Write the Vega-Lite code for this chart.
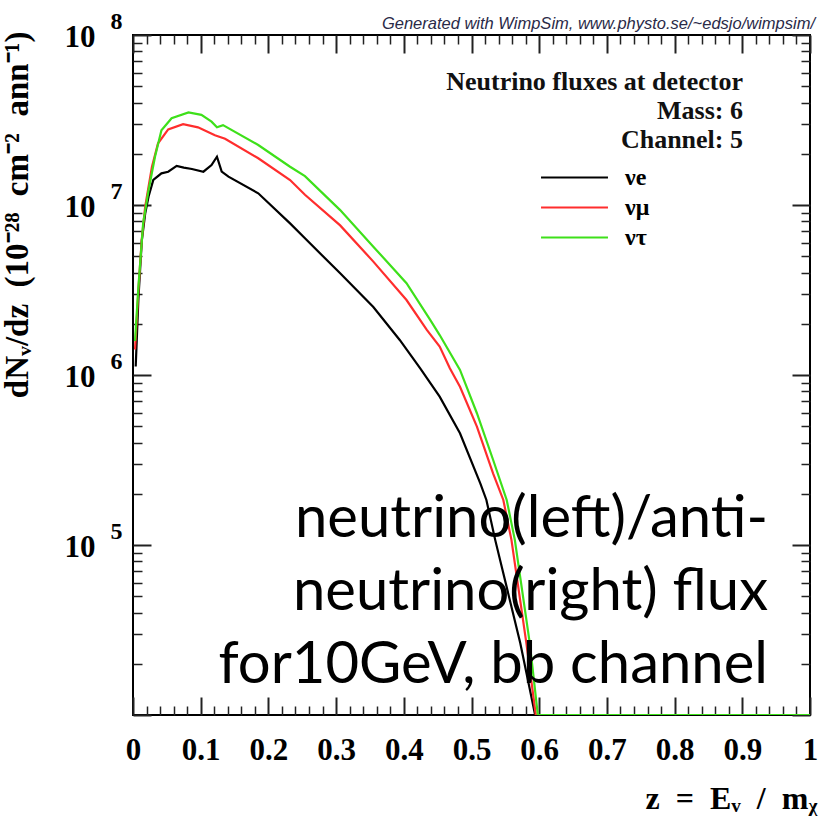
{
  "$schema": "https://vega.github.io/schema/vega-lite/v6.json",
  "width": 677,
  "height": 680,
  "autosize": {"type": "none"},
  "padding": {"left": 133, "top": 35, "right": 10, "bottom": 115},
  "background": "white",
  "config": {"view": {"stroke": "#000000", "strokeWidth": 2}, "font": "Liberation Serif"},
  "title": {"text": "Generated with WimpSim, www.physto.se/~edsjo/wimpsim/", "anchor": "end", "frame": "group", "font": "Liberation Sans", "fontStyle": "italic", "fontWeight": "normal", "fontSize": 16.5, "color": "#2a2a48", "offset": 0, "dx": 5, "dy": 23},
  "layer": [
    {
      "data": {"values": [
        {"s": "νe", "z": 0.004, "f": 1122000}, {"s": "νe", "z": 0.008, "f": 2818000}, {"s": "νe", "z": 0.013, "f": 6166000}, {"s": "νe", "z": 0.018, "f": 8913000}, {"s": "νe", "z": 0.023, "f": 11220000}, {"s": "νe", "z": 0.03, "f": 14030000}, {"s": "νe", "z": 0.042, "f": 15350000}, {"s": "νe", "z": 0.052, "f": 15700000}, {"s": "νe", "z": 0.0645, "f": 16980000}, {"s": "νe", "z": 0.075, "f": 16600000}, {"s": "νe", "z": 0.087, "f": 16290000}, {"s": "νe", "z": 0.104, "f": 15700000}, {"s": "νe", "z": 0.116, "f": 17180000}, {"s": "νe", "z": 0.124, "f": 19230000}, {"s": "νe", "z": 0.131, "f": 15700000}, {"s": "νe", "z": 0.141, "f": 14690000}, {"s": "νe", "z": 0.185, "f": 11720000}, {"s": "νe", "z": 0.232, "f": 7798000}, {"s": "νe", "z": 0.254, "f": 6368000}, {"s": "νe", "z": 0.306, "f": 3963000}, {"s": "νe", "z": 0.355, "f": 2512000}, {"s": "νe", "z": 0.394, "f": 1607000}, {"s": "νe", "z": 0.424, "f": 1096000}, {"s": "νe", "z": 0.453, "f": 746400}, {"s": "νe", "z": 0.483, "f": 453900}, {"s": "νe", "z": 0.513, "f": 230700}, {"s": "νe", "z": 0.522, "f": 184100}, {"s": "νe", "z": 0.535, "f": 107200}, {"s": "νe", "z": 0.572, "f": 26550}, {"s": "νe", "z": 0.594, "f": 10000}, {"s": "νe", "z": 1.0, "f": 10000},
        {"s": "νμ", "z": 0.003, "f": 1413000}, {"s": "νμ", "z": 0.008, "f": 3162000}, {"s": "νμ", "z": 0.013, "f": 6310000}, {"s": "νμ", "z": 0.018, "f": 9772000}, {"s": "νμ", "z": 0.028, "f": 16790000}, {"s": "νμ", "z": 0.037, "f": 23070000}, {"s": "νμ", "z": 0.052, "f": 27860000}, {"s": "νμ", "z": 0.074, "f": 29850000}, {"s": "νμ", "z": 0.096, "f": 28640000}, {"s": "νμ", "z": 0.121, "f": 25700000}, {"s": "νμ", "z": 0.136, "f": 24550000}, {"s": "νμ", "z": 0.185, "f": 18840000}, {"s": "νμ", "z": 0.232, "f": 14030000}, {"s": "νμ", "z": 0.254, "f": 11480000}, {"s": "νμ", "z": 0.306, "f": 7586000}, {"s": "νμ", "z": 0.355, "f": 4645000}, {"s": "νμ", "z": 0.404, "f": 2761000}, {"s": "νμ", "z": 0.434, "f": 1841000}, {"s": "νμ", "z": 0.453, "f": 1469000}, {"s": "νμ", "z": 0.468, "f": 1096000}, {"s": "νμ", "z": 0.483, "f": 853100}, {"s": "νμ", "z": 0.508, "f": 496600}, {"s": "νμ", "z": 0.532, "f": 263000}, {"s": "νμ", "z": 0.547, "f": 184100}, {"s": "νμ", "z": 0.559, "f": 107200}, {"s": "νμ", "z": 0.581, "f": 26550}, {"s": "νμ", "z": 0.595, "f": 10000}, {"s": "νμ", "z": 1.0, "f": 10000},
        {"s": "ντ", "z": 0.003, "f": 1585000}, {"s": "ντ", "z": 0.008, "f": 3311000}, {"s": "ντ", "z": 0.015, "f": 7834000}, {"s": "ντ", "z": 0.023, "f": 12250000}, {"s": "ντ", "z": 0.0325, "f": 19230000}, {"s": "ντ", "z": 0.042, "f": 27540000}, {"s": "ντ", "z": 0.057, "f": 32360000}, {"s": "ντ", "z": 0.082, "f": 35080000}, {"s": "ντ", "z": 0.101, "f": 33880000}, {"s": "ντ", "z": 0.116, "f": 30900000}, {"s": "ντ", "z": 0.124, "f": 28640000}, {"s": "ντ", "z": 0.133, "f": 29510000}, {"s": "ντ", "z": 0.185, "f": 22540000}, {"s": "ντ", "z": 0.232, "f": 16790000}, {"s": "ντ", "z": 0.254, "f": 14790000}, {"s": "ντ", "z": 0.306, "f": 9333000}, {"s": "ντ", "z": 0.355, "f": 5689000}, {"s": "ντ", "z": 0.404, "f": 3467000}, {"s": "ντ", "z": 0.439, "f": 2109000}, {"s": "ντ", "z": 0.453, "f": 1718000}, {"s": "ντ", "z": 0.483, "f": 1072000}, {"s": "ντ", "z": 0.508, "f": 595700}, {"s": "ντ", "z": 0.532, "f": 316200}, {"s": "ντ", "z": 0.552, "f": 184100}, {"s": "ντ", "z": 0.564, "f": 107200}, {"s": "ντ", "z": 0.586, "f": 26550}, {"s": "ντ", "z": 0.598, "f": 10000}, {"s": "ντ", "z": 1.0, "f": 10000}
      ]},
      "mark": {"type": "line", "strokeWidth": 2.2, "clip": true},
      "encoding": {
        "x": {"field": "z", "type": "quantitative", "scale": {"domain": [0, 1], "nice": false, "zero": false},
          "axis": {"orient": "bottom", "values": [0, 0.1, 0.2, 0.3, 0.4, 0.5, 0.6, 0.7, 0.8, 0.9, 1], "format": "~g", "ticks": false, "domain": false, "grid": false, "labelFlush": false, "labelFont": "Liberation Serif", "labelFontWeight": "bold", "labelFontSize": 31, "labelColor": "#000", "labelPadding": 20,
            "title": "z\u2002=\u2002E\u1d65\u2002/\u2002m\u1d6a", "titleX": 684, "titleY": 93, "titleAlign": "right", "titleBaseline": "alphabetic", "titleFont": "Liberation Serif", "titleFontWeight": "bold", "titleFontSize": 32, "titleColor": "#000"}},
        "y": {"field": "f", "type": "quantitative", "scale": {"type": "log", "domain": [10000, 100000000], "nice": false},
          "axis": {"orient": "left", "values": [100000, 1000000, 10000000, 100000000], "labelExpr": "'10'", "ticks": false, "domain": false, "grid": false, "labelFont": "Liberation Serif", "labelFontWeight": "bold", "labelFontSize": 31, "labelColor": "#000", "labelPadding": 38, "labelOffset": 2,
            "title": "dN\u1d65/dz\u2002(10\u207b\u00b2\u2078\u2002cm\u207b\u00b2\u2002ann\u207b\u00b9)", "titleX": -106, "titleY": -4, "titleAngle": -90, "titleAlign": "right", "titleBaseline": "alphabetic", "titleFont": "Liberation Serif", "titleFontWeight": "bold", "titleFontSize": 33, "titleColor": "#000"}},
        "color": {"field": "s", "type": "nominal", "scale": {"domain": ["νe", "νμ", "ντ"], "range": ["#000000", "#ff2d2d", "#3ee01a"]},
          "legend": {"orient": "none", "legendX": 429, "legendY": 130, "title": null, "symbolType": "M-3,0H3", "symbolSize": 498, "symbolStrokeWidth": 2.2, "labelFont": "Liberation Serif", "labelFontSize": 24, "labelFontWeight": "bold", "labelColor": "#000", "labelOffset": 38, "rowPadding": 5}}
      }
    },
    {
      "data": {"values": [{"z": 0.5, "f": 1000000}]},
      "mark": {"type": "point", "opacity": 0},
      "encoding": {
        "x": {"field": "z", "type": "quantitative", "axis": null},
        "y": {"field": "f", "type": "quantitative", "axis": {"orient": "left", "values": [100000, 1000000, 10000000, 100000000], "labelExpr": "['0','1','2','3','4','5','6','7','8'][round(log(datum.value)/LN10)]", "ticks": false, "domain": false, "grid": false, "labelFont": "Liberation Serif", "labelFontWeight": "bold", "labelFontSize": 24, "labelColor": "#000", "labelPadding": 11, "labelOffset": -14, "title": null}}
      }
    },
    {
      "data": {"values": [{"z": 0.5, "f": 1000000}]},
      "mark": {"type": "point", "opacity": 0},
      "encoding": {
        "x": {"field": "z", "type": "quantitative", "axis": {"orient": "bottom", "values": [0, 0.1, 0.2, 0.3, 0.4, 0.5, 0.6, 0.7, 0.8, 0.9, 1], "labels": false, "domain": false, "grid": false, "tickSize": -18, "tickWidth": 2, "tickColor": "#222", "title": null}},
        "y": {"field": "f", "type": "quantitative", "axis": {"orient": "left", "values": [10000, 100000, 1000000, 10000000, 100000000], "labels": false, "domain": false, "grid": false, "tickSize": -18, "tickWidth": 2, "tickColor": "#222", "title": null}}
      }
    },
    {
      "data": {"values": [{"z": 0.5, "f": 1000000}]},
      "mark": {"type": "point", "opacity": 0},
      "encoding": {
        "x": {"field": "z", "type": "quantitative", "axis": {"orient": "bottom", "values": [0.02,0.04,0.06,0.08,0.12,0.14,0.16,0.18,0.22,0.24,0.26,0.28,0.32,0.34,0.36,0.38,0.42,0.44,0.46,0.48,0.52,0.54,0.56,0.58,0.62,0.64,0.66,0.68,0.72,0.74,0.76,0.78,0.82,0.84,0.86,0.88,0.92,0.94,0.96,0.98], "labels": false, "domain": false, "grid": false, "tickSize": -9, "tickWidth": 1.5, "tickColor": "#222", "title": null}},
        "y": {"field": "f", "type": "quantitative", "axis": {"orient": "left", "values": [20000,30000,40000,50000,60000,70000,80000,90000,200000,300000,400000,500000,600000,700000,800000,900000,2000000,3000000,4000000,5000000,6000000,7000000,8000000,9000000,20000000,30000000,40000000,50000000,60000000,70000000,80000000,90000000], "labels": false, "domain": false, "grid": false, "tickSize": -9, "tickWidth": 1.5, "tickColor": "#222", "title": null}}
      }
    },
    {
      "data": {"values": [{"z": 0.5, "f": 1000000}]},
      "mark": {"type": "point", "opacity": 0},
      "encoding": {
        "x": {"field": "z", "type": "quantitative", "axis": {"orient": "top", "values": [0, 0.1, 0.2, 0.3, 0.4, 0.5, 0.6, 0.7, 0.8, 0.9, 1], "labels": false, "domain": false, "grid": false, "tickSize": -18, "tickWidth": 2, "tickColor": "#222", "title": null}},
        "y": {"field": "f", "type": "quantitative", "axis": {"orient": "right", "values": [10000, 100000, 1000000, 10000000, 100000000], "labels": false, "domain": false, "grid": false, "tickSize": -18, "tickWidth": 2, "tickColor": "#222", "title": null}}
      }
    },
    {
      "data": {"values": [{"z": 0.5, "f": 1000000}]},
      "mark": {"type": "point", "opacity": 0},
      "encoding": {
        "x": {"field": "z", "type": "quantitative", "axis": {"orient": "top", "values": [0.02,0.04,0.06,0.08,0.12,0.14,0.16,0.18,0.22,0.24,0.26,0.28,0.32,0.34,0.36,0.38,0.42,0.44,0.46,0.48,0.52,0.54,0.56,0.58,0.62,0.64,0.66,0.68,0.72,0.74,0.76,0.78,0.82,0.84,0.86,0.88,0.92,0.94,0.96,0.98], "labels": false, "domain": false, "grid": false, "tickSize": -9, "tickWidth": 1.5, "tickColor": "#222", "title": null}},
        "y": {"field": "f", "type": "quantitative", "axis": {"orient": "right", "values": [20000,30000,40000,50000,60000,70000,80000,90000,200000,300000,400000,500000,600000,700000,800000,900000,2000000,3000000,4000000,5000000,6000000,7000000,8000000,9000000,20000000,30000000,40000000,50000000,60000000,70000000,80000000,90000000], "labels": false, "domain": false, "grid": false, "tickSize": -9, "tickWidth": 1.5, "tickColor": "#222", "title": null}}
      }
    },
    {
      "data": {"values": [{}]},
      "mark": {"type": "text", "align": "right", "baseline": "alphabetic", "font": "Liberation Serif", "fontWeight": "bold", "fontSize": 26, "lineHeight": 29, "color": "#111"},
      "encoding": {
        "x": {"datum": 0.901, "type": "quantitative", "axis": null},
        "y": {"datum": 47400000, "type": "quantitative", "axis": null},
        "text": {"value": ["Neutrino fluxes at detector", "Mass: 6", "Channel: 5"]}
      }
    },
    {
      "data": {"values": [{}]},
      "mark": {"type": "text", "align": "right", "baseline": "alphabetic", "font": "Lato", "fontSize": 58, "lineHeight": 73, "color": "#000"},
      "encoding": {
        "x": {"datum": 0.938, "type": "quantitative", "axis": null},
        "y": {"datum": 111400, "type": "quantitative", "axis": null},
        "text": {"value": ["neutrino(left)/anti-", "neutrino(right) flux", "for10GeV, bb channel"]}
      }
    }
  ],
  "resolve": {"axis": {"x": "independent", "y": "independent"}}
}
